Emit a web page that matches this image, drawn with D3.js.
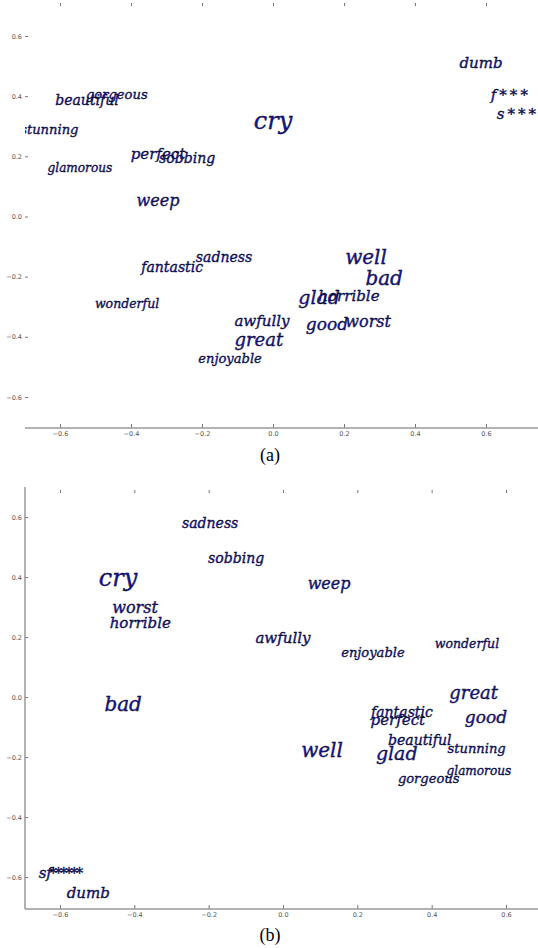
<!DOCTYPE html>
<html>
<head>
<meta charset="utf-8">
<script src="https://cdn.jsdelivr.net/npm/d3@7"></script>
<style>
  body { margin: 0; background: #fff; }
  svg { display: block; }
  .tick text { font-family: "DejaVu Sans", sans-serif; font-size: 6.5px; fill: #555; }
  .tick line { stroke: #777; }
  .word { font-family: "DejaVu Serif", serif; font-style: italic; fill: #1616a0; stroke: #000; stroke-width: 0.35px; }
  .caption { font-family: "Liberation Serif", serif; font-size: 18px; fill: #000; }
</style>
</head>
<body>
<div id="chart"></div>
<script>
// words plotted in both panels
var words = ['dumb', 'f***', 's***', 'cry', 'beautiful', 'gorgeous', 'stunning', 'perfect',
             'sobbing', 'glamorous', 'weep', 'sadness', 'fantastic', 'wonderful', 'awfully',
             'great', 'enjoyable', 'well', 'bad', 'glad', 'horrible', 'good', 'worst'];

// relative weight of each word (drives the font size)
var wordWeight = [0.36, 0.36, 0.36, 1.0, 0.29, 0.22, 0.22, 0.36,
                  0.29, 0.15, 0.43, 0.29, 0.29, 0.18, 0.36,
                  0.57, 0.22, 0.71, 0.71, 0.64, 0.36, 0.50, 0.43];

// panel (a) coordinates
var xA = [0.586, 0.67, 0.69, 0.0, -0.524, -0.44, -0.63, -0.324,
          -0.242, -0.544, -0.324, -0.138, -0.284, -0.411, -0.031,
          -0.04, -0.121, 0.262, 0.313, 0.13, 0.214, 0.152, 0.268];
var yA = [0.512, 0.405, 0.34, 0.32, 0.388, 0.405, 0.29, 0.208,
          0.195, 0.162, 0.055, -0.135, -0.168, -0.288, -0.345,
          -0.41, -0.472, -0.135, -0.205, -0.268, -0.265, -0.358, -0.348];

// panel (b) coordinates
var xB = [-0.524, -0.583, -0.6, -0.444, 0.368, 0.392, 0.521, 0.309,
          -0.126, 0.527, 0.124, -0.196, 0.32, 0.495, 0.0,
          0.513, 0.242, 0.105, -0.43, 0.306, -0.384, 0.546, -0.398];
var yB = [-0.653, -0.587, -0.587, 0.397, -0.143, -0.273, -0.173, -0.077,
          0.463, -0.247, 0.38, 0.58, -0.05, 0.177, 0.197,
          0.013, 0.15, -0.177, -0.023, -0.187, 0.247, -0.067, 0.3];

var tickVals = [-0.6, -0.4, -0.2, 0.0, 0.2, 0.4, 0.6];
var captions = ['(a)', '(b)'];

var width = 538, height = 948;
var svg = d3.select('#chart').append('svg')
            .attr('width', width)
            .attr('height', height);

var fontScale = d3.scaleLinear().domain([0, 1]).range([10, 24]);

var panels = [
  {xs: xA, ys: yA, top: 0, bottom: 428, xRange: [60, 486], yRange: [397, 36], leftSpine: false, capY: 461},
  {xs: xB, ys: yB, top: 487, bottom: 909, xRange: [60, 506], yRange: [877, 517], leftSpine: true, capY: 941}
];

panels.forEach(function(p, i) {
  var left = 25, right = width;
  var x = d3.scaleLinear().domain([-0.6, 0.6]).range(p.xRange);
  var y = d3.scaleLinear().domain([-0.6, 0.6]).range(p.yRange);

  var g = svg.append('g');

  g.append('clipPath').attr('id', 'clip' + i)
   .append('rect')
   .attr('x', left).attr('y', p.top)
   .attr('width', right - left).attr('height', p.bottom - p.top);

  // top ticks, no spine
  var topAx = g.append('g')
               .attr('transform', 'translate(0,' + (p.top + 6) + ')')
               .call(d3.axisTop(x).tickValues(tickVals).tickSize(3).tickFormat(''));
  topAx.select('.domain').remove();

  var bottomAx = g.append('g')
                  .attr('transform', 'translate(0,' + p.bottom + ')')
                  .call(d3.axisBottom(x).tickValues(tickVals).tickSize(-4).tickPadding(3).tickFormat(d3.format('.1f')));
  bottomAx.select('.domain').remove();
  g.append('line')
   .attr('x1', left).attr('x2', right)
   .attr('y1', p.bottom).attr('y2', p.bottom)
   .attr('stroke', '#999').attr('stroke-width', 1.5);

  var leftAx = g.append('g')
                .attr('transform', 'translate(' + left + ',0)')
                .call(d3.axisLeft(y).tickValues(tickVals).tickSize(-3).tickPadding(3).tickFormat(d3.format('.1f')));
  leftAx.select('.domain').remove();
  if (p.leftSpine) {
    g.append('line')
     .attr('x1', left).attr('x2', left)
     .attr('y1', p.top).attr('y2', p.bottom)
     .attr('stroke', '#999').attr('stroke-width', 1.5);
  }

  g.append('g')
   .attr('clip-path', 'url(#clip' + i + ')')
   .selectAll('.word')
   .data(words)
   .enter().append('text')
   .attr('class', 'word')
   .attr('x', function(d, k) { return x(p.xs[k]); })
   .attr('y', function(d, k) { return y(p.ys[k]); })
   .attr('dy', '0.35em')
   .attr('text-anchor', 'middle')
   .style('font-size', function(d, k) { return fontScale(wordWeight[k]) + 'px'; })
   .style('letter-spacing', function(d) { return d.indexOf('*') >= 0 ? '3px' : null; })
   .text(function(d) { return d; });

  svg.append('text')
     .attr('class', 'caption')
     .attr('x', 270).attr('y', p.capY)
     .attr('text-anchor', 'middle')
     .text(captions[i]);
});
</script>
</body>
</html>
